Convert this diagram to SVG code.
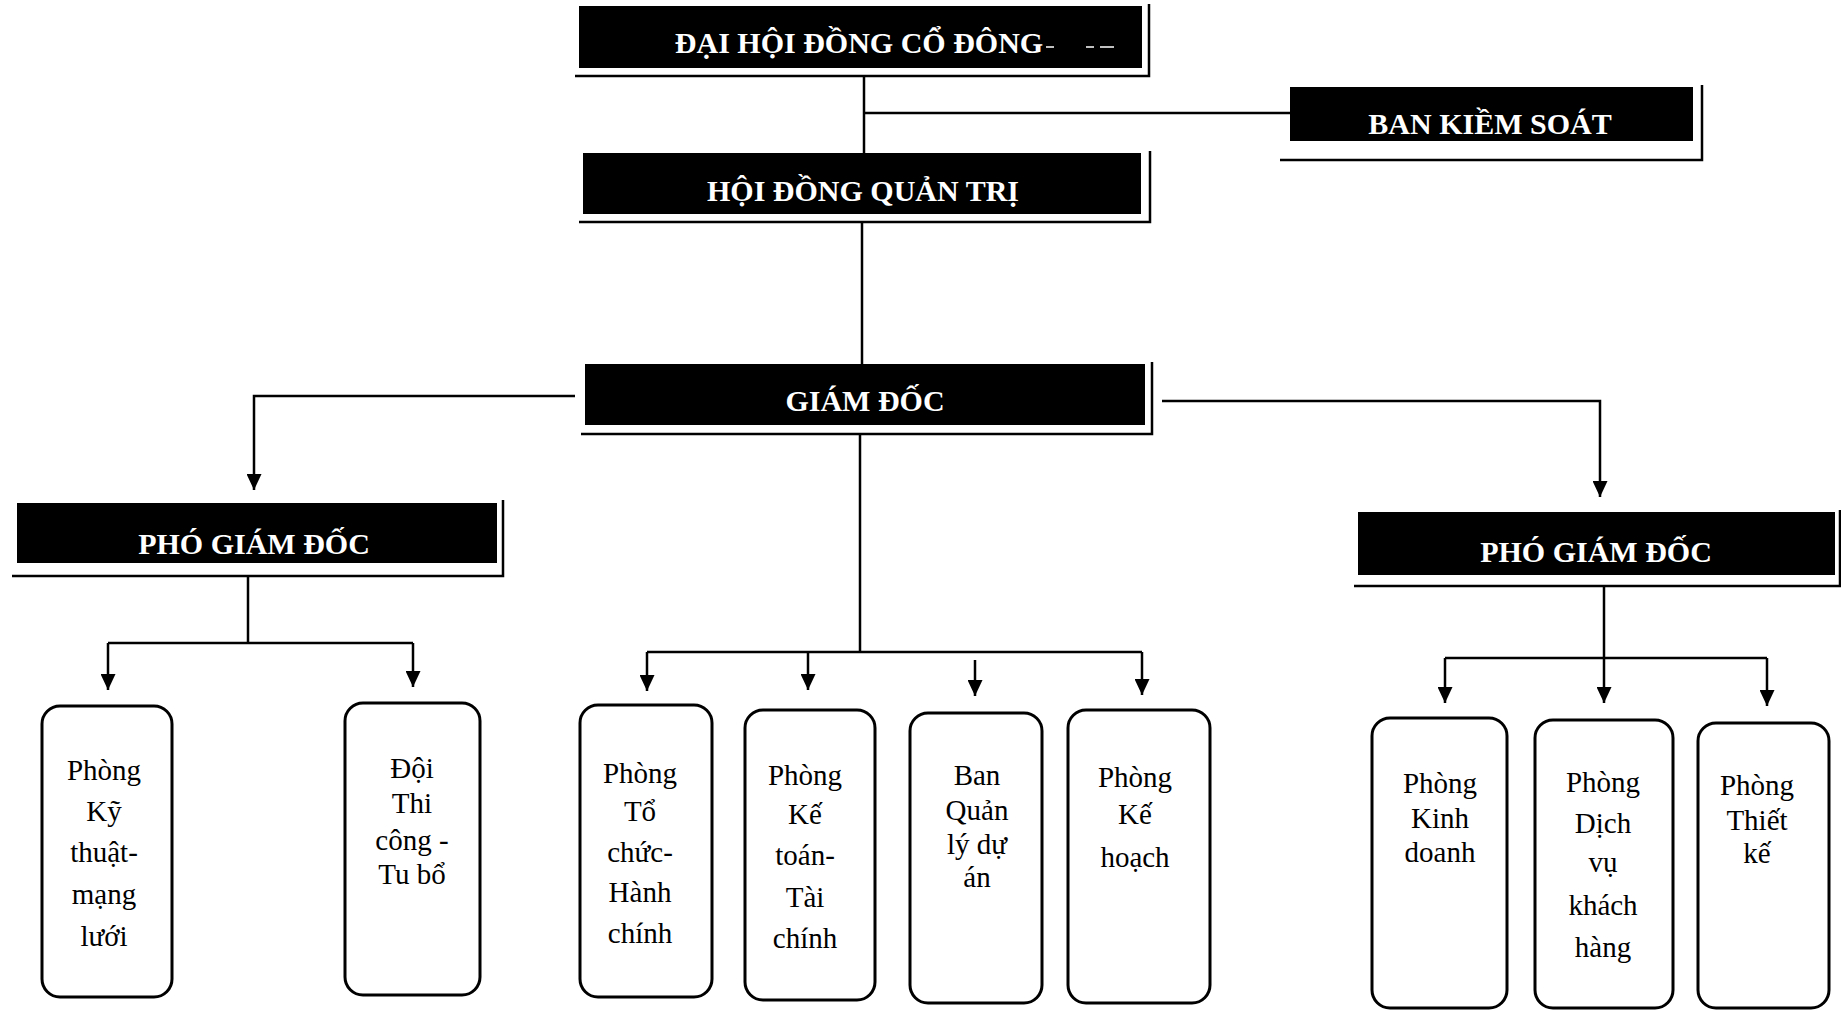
<svg xmlns="http://www.w3.org/2000/svg" width="1841" height="1011" viewBox="0 0 1841 1011">
<defs>
<style>
.hd{fill:#000}
.sh{fill:none;stroke:#000;stroke-width:2.5}
.ht{fill:#fff;font-family:"Liberation Serif","Times New Roman",serif;font-weight:bold;font-size:30px;text-anchor:middle}
.bx{fill:#fff;stroke:#000;stroke-width:3}
.bt{fill:#000;font-family:"Liberation Serif","Times New Roman",serif;font-size:29px;text-anchor:middle}
.ln{fill:none;stroke:#000;stroke-width:2.5}
</style>
<marker id="ad" markerUnits="userSpaceOnUse" markerWidth="15" markerHeight="17" refX="7.5" refY="16" orient="0" viewBox="0 0 15 17">
<path d="M0,0 L15,0 L7.5,16 Z" fill="#000"/>
</marker>
</defs>
<rect width="1841" height="1011" fill="#fff"/>

<g id="connectors">
<path class="ln" d="M864,76 V153"/>
<path class="ln" d="M864,113 H1290"/>
<path class="ln" d="M862,222 V364"/>
<path class="ln" d="M575,396 H254 V490" marker-end="url(#ad)"/>
<path class="ln" d="M1162,401 H1600 V497" marker-end="url(#ad)"/>
<path class="ln" d="M860,434 V652"/>
<path class="ln" d="M647,652 H1142"/>
<path class="ln" d="M647,652 V691" marker-end="url(#ad)"/>
<path class="ln" d="M808,652 V690" marker-end="url(#ad)"/>
<path class="ln" d="M975,660 V696" marker-end="url(#ad)"/>
<path class="ln" d="M1142,652 V695" marker-end="url(#ad)"/>
<path class="ln" d="M248,577 V643"/>
<path class="ln" d="M108,643 H413"/>
<path class="ln" d="M108,643 V690" marker-end="url(#ad)"/>
<path class="ln" d="M413,643 V687" marker-end="url(#ad)"/>
<path class="ln" d="M1604,586 V703" marker-end="url(#ad)"/>
<path class="ln" d="M1445,658 H1767"/>
<path class="ln" d="M1445,658 V703" marker-end="url(#ad)"/>
<path class="ln" d="M1767,658 V706" marker-end="url(#ad)"/>
</g>

<g id="dai-hoi-dong-co-dong">
<rect class="hd" x="579" y="6" width="563" height="62"/>
<path class="sh" d="M575,76 H1149 V4"/>
<text class="ht" x="859" y="53">ĐẠI HỘI ĐỒNG CỔ ĐÔNG</text>
<path d="M1046,47 H1054 M1086,47 H1094 M1100,47 H1114" stroke="#fff" stroke-width="1.5"/>
</g>

<g id="ban-kiem-soat">
<rect class="hd" x="1290" y="87" width="403" height="54"/>
<path class="sh" d="M1280,160 H1702 V85"/>
<text class="ht" x="1490" y="134">BAN KIỀM SOÁT</text>
</g>

<g id="hoi-dong-quan-tri">
<rect class="hd" x="583" y="153" width="558" height="61"/>
<path class="sh" d="M579,222 H1150 V151"/>
<text class="ht" x="863" y="201">HỘI ĐỒNG QUẢN TRỊ</text>
</g>

<g id="giam-doc">
<rect class="hd" x="585" y="364" width="560" height="61"/>
<path class="sh" d="M581,434 H1152 V362"/>
<text class="ht" x="865" y="411">GIÁM ĐỐC</text>
</g>

<g id="pho-giam-doc-1">
<rect class="hd" x="17" y="503" width="480" height="60"/>
<path class="sh" d="M12,576 H503 V500"/>
<text class="ht" x="254" y="554">PHÓ GIÁM ĐỐC</text>
</g>

<g id="pho-giam-doc-2">
<rect class="hd" x="1358" y="512" width="477" height="63"/>
<path class="sh" d="M1354,586 H1840 V510"/>
<text class="ht" x="1596" y="562">PHÓ GIÁM ĐỐC</text>
</g>

<g id="phong-ky-thuat">
<rect class="bx" x="42" y="706" width="130" height="291" rx="18"/>
<text class="bt" x="104"><tspan x="104" y="780">Phòng</tspan><tspan x="104" y="821">Kỹ</tspan><tspan x="104" y="862">thuật-</tspan><tspan x="104" y="904">mạng</tspan><tspan x="104" y="946">lưới</tspan></text>
</g>

<g id="doi-thi-cong">
<rect class="bx" x="345" y="703" width="135" height="292" rx="18"/>
<text class="bt" x="412"><tspan x="412" y="778">Đội</tspan><tspan x="412" y="813">Thi</tspan><tspan x="412" y="850">công -</tspan><tspan x="412" y="884">Tu bổ</tspan></text>
</g>

<g id="phong-to-chuc">
<rect class="bx" x="580" y="705" width="132" height="292" rx="18"/>
<text class="bt" x="640"><tspan x="640" y="783">Phòng</tspan><tspan x="640" y="821">Tổ</tspan><tspan x="640" y="862">chức-</tspan><tspan x="640" y="902">Hành</tspan><tspan x="640" y="943">chính</tspan></text>
</g>

<g id="phong-ke-toan">
<rect class="bx" x="745" y="710" width="130" height="290" rx="18"/>
<text class="bt" x="805"><tspan x="805" y="785">Phòng</tspan><tspan x="805" y="824">Kế</tspan><tspan x="805" y="865">toán-</tspan><tspan x="805" y="907">Tài</tspan><tspan x="805" y="948">chính</tspan></text>
</g>

<g id="ban-quan-ly-du-an">
<rect class="bx" x="910" y="713" width="132" height="290" rx="18"/>
<text class="bt" x="977"><tspan x="977" y="785">Ban</tspan><tspan x="977" y="820">Quản</tspan><tspan x="977" y="854">lý dự</tspan><tspan x="977" y="887">án</tspan></text>
</g>

<g id="phong-ke-hoach">
<rect class="bx" x="1068" y="710" width="142" height="293" rx="18"/>
<text class="bt" x="1135"><tspan x="1135" y="787">Phòng</tspan><tspan x="1135" y="824">Kế</tspan><tspan x="1135" y="867">hoạch</tspan></text>
</g>

<g id="phong-kinh-doanh">
<rect class="bx" x="1372" y="718" width="135" height="290" rx="18"/>
<text class="bt" x="1440"><tspan x="1440" y="793">Phòng</tspan><tspan x="1440" y="828">Kinh</tspan><tspan x="1440" y="862">doanh</tspan></text>
</g>

<g id="phong-dich-vu">
<rect class="bx" x="1535" y="720" width="138" height="288" rx="18"/>
<text class="bt" x="1603"><tspan x="1603" y="792">Phòng</tspan><tspan x="1603" y="833">Dịch</tspan><tspan x="1603" y="872">vụ</tspan><tspan x="1603" y="915">khách</tspan><tspan x="1603" y="957">hàng</tspan></text>
</g>

<g id="phong-thiet-ke">
<rect class="bx" x="1698" y="723" width="131" height="285" rx="18"/>
<text class="bt" x="1757"><tspan x="1757" y="795">Phòng</tspan><tspan x="1757" y="830">Thiết</tspan><tspan x="1757" y="863">kế</tspan></text>
</g>
</svg>
